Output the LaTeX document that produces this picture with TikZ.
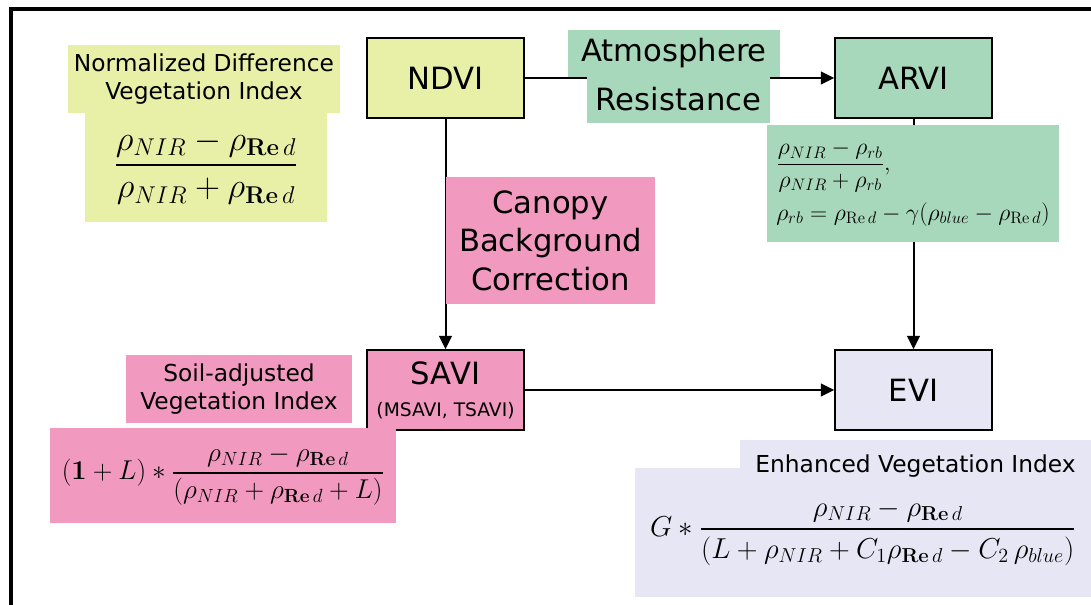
\documentclass[tikz,border=0pt]{standalone}
\usepackage{fix-cm}
\usepackage{amsmath}
\usepackage[no-math]{fontspec}
\setmainfont{DejaVu Sans}
\usetikzlibrary{arrows.meta}

\definecolor{ndviyellow}{RGB}{232,240,168}
\definecolor{arvigreen}{RGB}{168,216,188}
\definecolor{savipink}{RGB}{242,153,192}
\definecolor{evililac}{RGB}{230,230,245}

\begin{document}
\begin{tikzpicture}[
    x=0.75pt, y=-0.75pt,
    index/.style={rectangle, draw, line width=1.2pt, minimum width=117.75pt, minimum height=60pt, align=center, font=\fontsize{23}{28}\selectfont},
    heading/.style={rectangle, inner sep=0pt, align=center, font=\fontsize{17.5}{21}\selectfont},
    formula/.style={rectangle, inner sep=0pt, font=\fontsize{21}{25}\selectfont},
    arrow/.style={->, >={Triangle[length=10pt,width=9.5pt]}, line width=1.5pt}
]
\useasboundingbox (0,0) rectangle (1091,604);
\draw[line width=3pt] (10.8,620) -- (10.8,9.2) -- (1100,9.2);

\node[index, fill=ndviyellow] (ndvi) at (445.5, 78)  {NDVI};
\node[index, fill=arvigreen]  (arvi) at (913.5, 78)  {ARVI};
\node[index, fill=savipink]   (savi) at (445.5, 390) {SAVI\\[-4pt]{\fontsize{14}{16}\selectfont (MSAVI, TSAVI)}};
\node[index, fill=evililac]   (evi)  at (913.5, 390) {EVI};

\draw[arrow] (ndvi) -- (arvi);
\draw[arrow] (ndvi) -- (savi);
\draw[arrow] (savi) -- (evi);
\draw[arrow] (arvi) -- (evi);

% correction labels
\node[heading, fill=arvigreen, minimum width=137.25pt, minimum height=35.25pt, font=\fontsize{23}{28}\selectfont] (resist) at (678.5, 99) {Resistance};
\node[heading, fill=arvigreen, minimum width=159pt, minimum height=35.25pt, font=\fontsize{23}{28}\selectfont] (atmos) at (674, 53) {Atmosphere};
\node[heading, fill=savipink, minimum width=156.75pt, minimum height=95.25pt, font=\fontsize{23}{29}\selectfont] (canopy) at (550.5, 240.5) {Canopy\\Background\\Correction};

% NDVI
\node[heading, fill=ndviyellow, minimum width=204pt, minimum height=51pt] (ndvititle) at (204, 79) {Normalized Difference\\Vegetation Index};
\node[formula, fill=ndviyellow, minimum width=181.5pt, minimum height=81.75pt, font=\fontsize{26}{30}\selectfont] (ndviform) at (206, 167.5)
    {$\genfrac{}{}{1.6pt}{0}{\rho_{NIR}-\rho_{\mathbf{Re}\,d}}{\rho_{NIR}+\rho_{\mathbf{Re}\,d}}$};

% ARVI
\node[formula, fill=arvigreen, minimum width=219pt, minimum height=87.75pt, align=left, font=\fontsize{17.8}{21}\selectfont] (arviform) at (913, 183.5)
    {$\dfrac{\rho_{NIR}-\rho_{rb}}{\rho_{NIR}+\rho_{rb}},$\\[7pt]
     $\rho_{rb}=\rho_{\mathrm{Re}\,d}-\gamma(\rho_{blue}-\rho_{\mathrm{Re}\,d})$};

% SAVI
\node[heading, fill=savipink, minimum width=169.5pt, minimum height=51pt] (savititle) at (239, 389) {Soil-adjusted\\Vegetation Index};
\node[formula, fill=savipink, minimum width=259.5pt, minimum height=71.25pt, font=\fontsize{20.4}{24}\selectfont] (saviform) at (223, 475.5)
    {$(\mathbf{1}+L)*\genfrac{}{}{1pt}{0}{\rho_{NIR}-\rho_{\mathbf{Re}\,d}}{(\rho_{NIR}+\rho_{\mathbf{Re}\,d}+L)}$};

% EVI
\node[formula, fill=evililac, minimum width=342pt, minimum height=96.75pt, font=\fontsize{21.6}{25}\selectfont] (eviform) at (863, 532.5)
    {$G*\genfrac{}{}{1.6pt}{0}{\rho_{NIR}-\rho_{\mathbf{Re}\,d}}{(L+\rho_{NIR}+C_1\rho_{\mathbf{Re}\,d}-C_2\,\rho_{blue})}$};
\node[heading, fill=evililac, minimum width=263.25pt, text height=24pt, text depth=0pt, anchor=base] (evititle) at (915.5, 472) {Enhanced Vegetation Index};
\end{tikzpicture}
\end{document}
